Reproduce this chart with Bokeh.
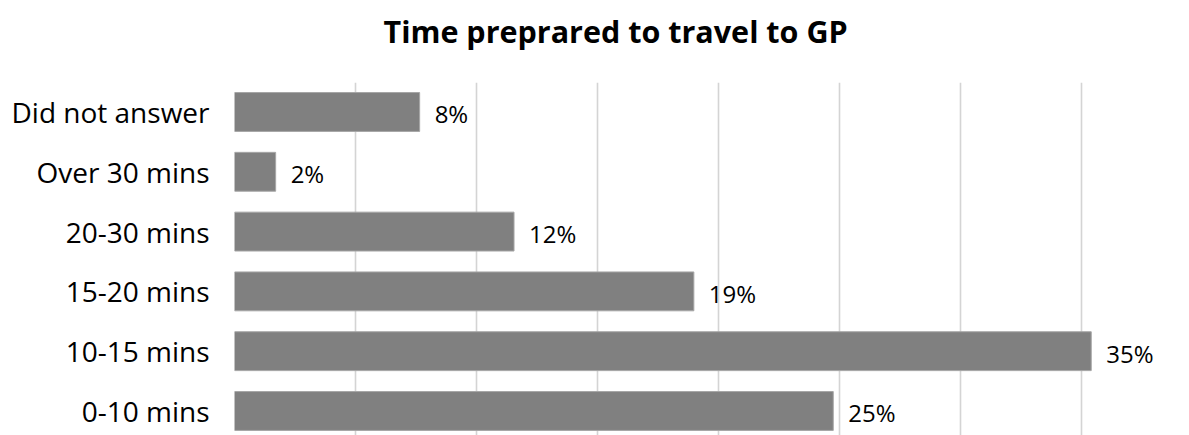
from bokeh.plotting import figure
from bokeh.models import ColumnDataSource, Range1d, FixedTicker, LabelSet, Title
from bokeh.core.properties import value
from bokeh.embed import file_html
from bokeh.resources import INLINE

# ---- data ----
categories = ["0-10 mins", "10-15 mins", "15-20 mins", "20-30 mins", "Over 30 mins", "Did not answer"]
values = [24.74, 35.40, 18.98, 11.55, 1.70, 7.65]
grid_ticks = [0, 5, 10, 15, 20, 25, 30, 35]
title_text = "Time preprared to travel to GP"

positions = list(range(len(categories)))
labels = [f"{round(v)}%" for v in values]

src = ColumnDataSource(dict(y=positions, v=values, label=labels, cat=categories))

FONT = "Open Sans"

p = figure(
    width=1189, height=435,
    x_range=Range1d(0, 39.46),
    y_range=Range1d(-0.41, 5.493),
    output_backend="svg", toolbar_location=None, title_location=None,
    min_border_left=234, min_border_right=0, min_border_top=82, min_border_bottom=0,
)
p.outline_line_color = None
p.background_fill_color = "white"
p.border_fill_color = "white"

# spacer panel between the frame and the title
spacer = Title(text=" ", text_font_size="1px", standoff=28)
p.add_layout(spacer, "above")

title = Title(text=title_text, text_font=FONT, text_font_style="bold",
              text_font_size="30.5px", text_color="black",
              align="left", offset=149, vertical_align="bottom", standoff=0)
p.add_layout(title, "above")

p.hbar(y="y", left=0, right="v", height=0.65, source=src,
       fill_color="#808080", line_color="#a6a6a6", line_width=1)

p.xaxis.visible = False
p.xgrid.ticker = FixedTicker(ticks=grid_ticks)
p.xgrid.grid_line_color = "#d4d4d4"
p.xgrid.grid_line_width = 1.6
p.ygrid.visible = False

ya = p.yaxis[0]
ya.ticker = FixedTicker(ticks=positions)
ya.major_label_overrides = {i: c for i, c in zip(positions, categories)}
ya.axis_line_color = None
ya.major_tick_line_color = None
ya.minor_tick_line_color = None
ya.major_tick_out = 0
ya.major_tick_in = 0
ya.major_label_standoff = 25
ya.major_label_text_font = FONT
ya.major_label_text_font_size = "28px"
ya.major_label_text_color = "black"

lbl = LabelSet(x="v", y="y", text="label", source=src, x_offset=15, y_offset=-2,
               text_baseline="middle", text_align="left",
               text_font=value(FONT), text_font_size="24px", text_color="black")
p.add_layout(lbl)

open("out.html", "w").write(file_html(p, INLINE))
